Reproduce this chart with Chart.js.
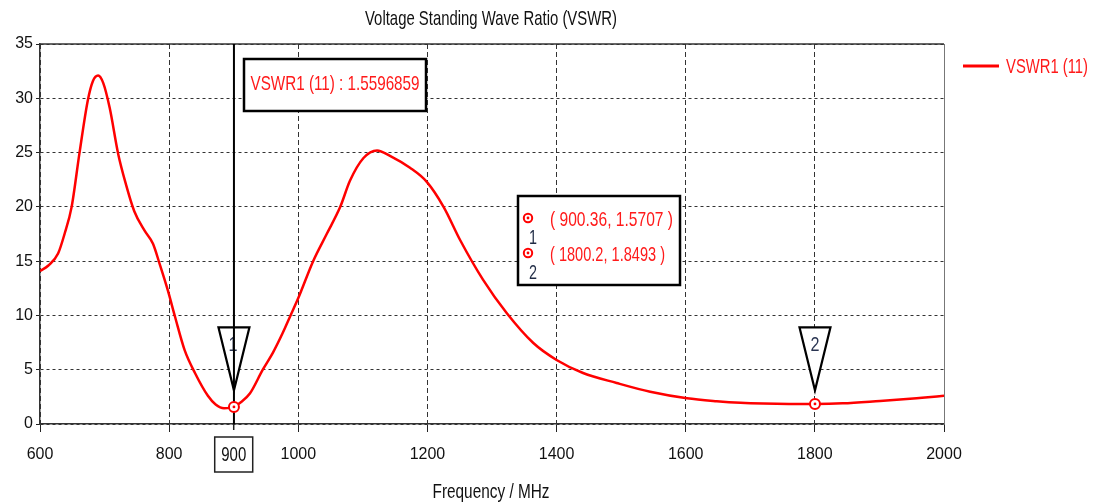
<!DOCTYPE html>
<html>
<head>
<meta charset="utf-8">
<script src="https://cdn.jsdelivr.net/npm/chart.js@4"></script>
<style>
  html, body { margin: 0; padding: 0; background: #ffffff; }
  #wrap { width: 1093px; height: 503px; }
</style>
</head>
<body>
<div id="wrap"><canvas id="c" width="1093" height="503"></canvas></div>
<script>
// ---------- data ----------
const chartTitle = 'Voltage Standing Wave Ratio (VSWR)';
const xAxisTitle = 'Frequency / MHz';
const seriesName = 'VSWR1 (11)';
const freq = [600, 613, 628, 638, 649, 661, 674, 682, 690, 698, 708, 721, 733, 746, 762, 775, 785, 798, 809, 824, 840, 860, 872, 885, 900.36, 910, 925, 945, 961, 976, 988, 1000, 1023, 1044, 1065, 1080, 1101, 1122, 1142, 1173, 1199, 1225, 1251, 1286, 1323, 1364, 1400, 1441, 1493, 1545, 1602, 1648, 1685, 1720, 1760, 1800.2, 1843, 1901, 1937, 1966, 2000];
const vswr = [14.1, 14.6, 15.7, 17.5, 20.0, 24.9, 29.8, 31.6, 32.1, 31.4, 29.1, 24.9, 22.1, 19.6, 17.8, 16.6, 14.8, 12.3, 9.9, 6.8, 4.7, 2.6, 1.8, 1.45, 1.5707, 1.95, 2.8, 5.0, 6.6, 8.4, 10.0, 11.6, 15.0, 17.5, 20.0, 22.4, 24.5, 25.2, 24.7, 23.6, 22.3, 20.0, 16.9, 13.3, 10.2, 7.46, 5.9, 4.7, 3.78, 2.97, 2.37, 2.1, 1.95, 1.88, 1.85, 1.8493, 1.9, 2.12, 2.27, 2.42, 2.6];
const markerNames = ['1', '2'];
const markerFreq = [900.36, 1800.2];
const markerVswr = [1.5707, 1.8493];
const markerTexts = ['( 900.36, 1.5707 )', '( 1800.2, 1.8493 )'];
const readoutText = 'VSWR1 (11) : 1.5596859';
const xTickValues = [600, 800, 1000, 1200, 1400, 1600, 1800, 2000];
const yTickValues = [0, 5, 10, 15, 20, 25, 30, 35];
const activeMarkerTick = 900;

// ---------- helpers ----------
const FONT = '"Liberation Sans Narrow", "Liberation Sans", Arial, sans-serif';
function sText(ctx, s, x, y, size, color, align, targetW) {
  ctx.save();
  ctx.font = size + 'px ' + FONT;
  ctx.fillStyle = color;
  ctx.textBaseline = 'middle';
  const w = ctx.measureText(s).width;
  const sx = targetW ? targetW / w : 1;
  let x0 = x;
  if (align === 'center') x0 = x - w * sx / 2;
  else if (align === 'right') x0 = x - w * sx;
  ctx.translate(x0, y);
  ctx.scale(sx, 1);
  ctx.textAlign = 'left';
  ctx.fillText(s, 0, 0);
  ctx.restore();
}
function ring(ctx, x, y, r) {
  ctx.save();
  ctx.beginPath();
  ctx.arc(x, y, r, 0, Math.PI * 2);
  ctx.fillStyle = '#ffffff';
  ctx.fill();
  ctx.lineWidth = 2;
  ctx.strokeStyle = '#ff0000';
  ctx.stroke();
  ctx.beginPath();
  ctx.arc(x, y, 1.4, 0, Math.PI * 2);
  ctx.fillStyle = '#ff0000';
  ctx.fill();
  ctx.restore();
}

const decor = {
  id: 'decor',
  afterDatasetsDraw(chart) {
    const ctx = chart.ctx;
    const xs = chart.scales.x, ys = chart.scales.y;
    const a = chart.chartArea;

    // frame (top + right)
    ctx.save();
    ctx.strokeStyle = '#333333';
    ctx.lineWidth = 1.5;
    ctx.beginPath();
    ctx.moveTo(a.left, a.top); ctx.lineTo(a.right, a.top);
    ctx.stroke();
    ctx.strokeStyle = '#777777';
    ctx.lineWidth = 1;
    ctx.beginPath();
    ctx.moveTo(a.right + 0.5, a.top); ctx.lineTo(a.right + 0.5, a.bottom);
    ctx.stroke();
    ctx.restore();

    // triangles + labels
    const apexY = ys.getPixelForValue(3.1);
    markerFreq.forEach((f, i) => {
      const px = xs.getPixelForValue(f);
      const topY = apexY - 63;
      ctx.save();
      ctx.fillStyle = '#ffffff';
      ctx.strokeStyle = '#000000';
      ctx.lineWidth = 2.2;
      ctx.beginPath();
      ctx.moveTo(px - 15.5, topY);
      ctx.lineTo(px + 15.5, topY);
      ctx.lineTo(px, apexY);
      ctx.closePath();
      ctx.fill();
      ctx.stroke();
      ctx.restore();
      sText(ctx, markerNames[i], i === 0 ? px - 1 : px, topY + 18, 21, '#2a3552', 'center', 9);
    });

    // active marker vertical line
    const mx = xs.getPixelForValue(markerFreq[0]);
    ctx.save();
    ctx.strokeStyle = '#000000';
    ctx.lineWidth = 2;
    ctx.beginPath();
    ctx.moveTo(mx, a.top); ctx.lineTo(mx, a.bottom);
    ctx.stroke();
    ctx.restore();

    // marker rings on curve
    markerFreq.forEach((f, i) => {
      ring(ctx, xs.getPixelForValue(f), ys.getPixelForValue(markerVswr[i]), 5);
    });

    // readout box
    ctx.save();
    ctx.fillStyle = '#ffffff';
    ctx.strokeStyle = '#000000';
    ctx.lineWidth = 2.5;
    ctx.fillRect(244, 59, 182, 52);
    ctx.strokeRect(244, 59, 182, 52);
    ctx.restore();
    sText(ctx, readoutText, 335, 84, 21, '#ff1a1a', 'center', 169);

    // marker table box
    ctx.save();
    ctx.fillStyle = '#ffffff';
    ctx.strokeStyle = '#000000';
    ctx.lineWidth = 2.5;
    ctx.fillRect(518, 196, 162, 89);
    ctx.strokeRect(518, 196, 162, 89);
    ctx.restore();
    const rowY = [220, 255];
    markerTexts.forEach((t, i) => {
      ring(ctx, 528, rowY[i] - 2, 4.2);
      sText(ctx, markerNames[i], 533, rowY[i] + 18, 21, '#1f2a44', 'center', 8);
      sText(ctx, t, 550, rowY[i], 21, '#ff1a1a', 'left', i === 0 ? 123 : 115);
    });

    // boxed active tick label on x axis
    const tx = xs.getPixelForValue(activeMarkerTick);
    ctx.save();
    ctx.strokeStyle = '#222222';
    ctx.lineWidth = 1.5;
    ctx.strokeRect(tx - 19, 437, 38, 35);
    ctx.beginPath();
    ctx.moveTo(tx, a.bottom); ctx.lineTo(tx, a.bottom + 6);
    ctx.stroke();
    ctx.restore();
    sText(ctx, String(activeMarkerTick), tx, 455, 21, '#111111', 'center', 25);
  },
  afterDraw(chart) {
    const ctx = chart.ctx;
    sText(ctx, chartTitle, 491, 19, 21, '#111111', 'center', 252);
    sText(ctx, xAxisTitle, 491, 492, 21, '#111111', 'center', 117);
    ctx.save();
    ctx.strokeStyle = '#ff0000';
    ctx.lineWidth = 3;
    ctx.beginPath();
    ctx.moveTo(963, 66); ctx.lineTo(999, 66);
    ctx.stroke();
    ctx.restore();
    sText(ctx, seriesName, 1006, 67, 21, '#ff1a1a', 'left', 82);
  }
};

new Chart(document.getElementById('c'), {
  type: 'line',
  data: {
    datasets: [
      {
        label: seriesName,
        data: freq.map((f, i) => ({ x: f, y: vswr[i] })),
        borderColor: '#ff0000',
        borderWidth: 2.5,
        pointRadius: 0,
        cubicInterpolationMode: 'monotone'
      }
    ]
  },
  options: {
    responsive: false,
    animation: false,
    layout: { padding: { top: 44, right: 149, left: 0, bottom: 0 } },
    plugins: { legend: { display: false }, title: { display: false }, tooltip: { enabled: false } },
    scales: {
      x: {
        type: 'linear', min: 600, max: 2000,
        afterBuildTicks: s => { s.ticks = xTickValues.map(v => ({ value: v })); },
        afterFit: s => { s.height = 79; },
        ticks: { font: { family: FONT, size: 16 }, color: '#111111', padding: 13, maxRotation: 0, autoSkip: false, callback: v => String(v) },
        grid: { color: '#333333', lineWidth: 1, tickLength: 8, tickColor: '#222222', tickBorderDash: [] },
        border: { display: true, color: '#333333', width: 1.5, dash: [5, 3] }
      },
      y: {
        type: 'linear', min: 0, max: 35,
        afterBuildTicks: s => { s.ticks = yTickValues.map(v => ({ value: v })); },
        afterFit: s => { s.width = 40; },
        ticks: { font: { family: FONT, size: 16 }, color: '#111111', padding: 3, callback: v => String(v) },
        grid: { color: '#333333', lineWidth: 1, tickLength: 4, tickColor: '#222222', tickBorderDash: [] },
        border: { display: true, color: '#333333', width: 1.5, dash: [3, 3] }
      }
    }
  },
  plugins: [decor]
});
</script>
</body>
</html>
